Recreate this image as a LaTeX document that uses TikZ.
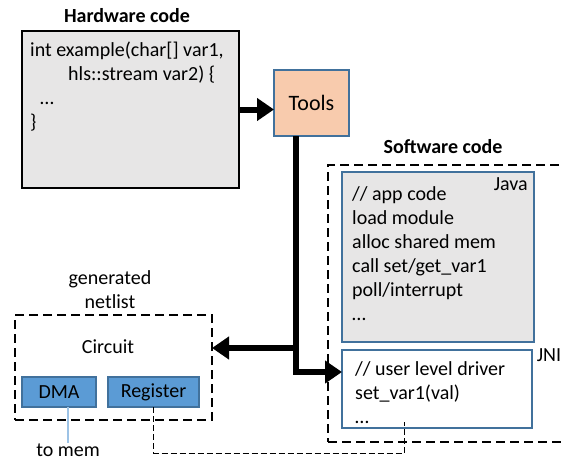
\documentclass[tikz,border=0pt]{standalone}
\usepackage{fontspec}
\setmainfont{Carlito}
\usetikzlibrary{arrows.meta}
\definecolor{codegray}{HTML}{E7E6E6}
\definecolor{peach}{HTML}{F8CBAD}
\definecolor{edgeblue}{HTML}{41719C}
\definecolor{boxblue}{HTML}{5B9BD5}
\definecolor{wireblue}{HTML}{9DC3E6}
\begin{document}
\begin{tikzpicture}[x=1pt,y=-1pt,
  font=\fontsize{20}{24}\selectfont,
  panel/.style={anchor=north west, inner sep=0, outer sep=0},
  codebox/.style={panel, draw=black, line width=1.6pt, fill=codegray},
  bluebox/.style={panel, draw=edgeblue, line width=1.5pt},
  groupbox/.style={panel, draw=black, line width=1.6pt, dash pattern=on 9pt off 5pt},
  hwblock/.style={panel, draw=edgeblue, line width=1.2pt, fill=boxblue},
  label/.style={inner sep=0},
  code/.style={anchor=north west, align=left, inner sep=0},
  bigarrow/.style={line width=6pt, -{Triangle[length=17pt,width=22pt]}},
]
\clip (0,0) rectangle (563,463);

% hardware source
\node[label, font=\fontsize{20}{24}\selectfont\bfseries] (hwtitle) at (127,16) {Hardware code};
\node[codebox, minimum width=217pt, minimum height=157pt] (hw) at (22,31) {};
\node[code] (hwtext) at (30,42) {int example(char[] var1,\\
  \hspace*{38pt}hls::stream var2) \{\\
  \hspace*{10pt}…\\
  \}};

% tool flow
\node[bluebox, fill=peach, minimum width=75pt, minimum height=66pt] (tools) at (274,70) {};
\node[label, font=\fontsize{22}{26}\selectfont] (toolstext) at (tools.center) {Tools};

% software side
\node[label, font=\fontsize{20}{24}\selectfont\bfseries] (swtitle) at (443,147) {Software code};
\node[groupbox, minimum width=250pt, minimum height=277pt] (sw) at (328,165) {};
\node[bluebox, fill=codegray, minimum width=192pt, minimum height=170pt] (java) at (342,172) {};
\node[label, anchor=north east] (javalabel) at (528,177) {Java};
\node[code] (javatext) at (352,186) {// app code\\
  load module\\
  alloc shared mem\\
  call set/get\_var1\\
  poll/interrupt\\
  …};
\node[bluebox, fill=white, minimum width=190pt, minimum height=78pt] (jni) at (342,350) {};
\node[label] (jnilabel) at (549,355) {JNI};
\node[code] (jnitext) at (355,361) {// user level driver\\
  set\_var1(val)\\
  …};

% generated hardware
\node[label, align=center] (netlist) at (110,290) {generated\\netlist};
\node[groupbox, minimum width=197pt, minimum height=105pt] (circuit) at (15,315) {};
\node[label] (circuittext) at (108,347) {Circuit};
\node[hwblock, minimum width=74pt, minimum height=30pt] (dma) at (22,377) {};
\node[label] (dmatext) at (dma.center) {DMA};
\node[hwblock, minimum width=91pt, minimum height=30pt] (reg) at (108,377) {};
\node[label] (regtext) at (reg.center) {Register};
\node[label, anchor=base] (tomem) at (68,456) {to mem};

% connections
\coordinate (split) at (296,348);
\coordinate (bend) at (296,372);
\coordinate (rb) at (404,453);
\coordinate (re) at (404,422);

\draw[bigarrow] (hw.east) -- (hw.east -| tools.west);
\draw[bigarrow] (tools.south -| bend) -- (bend) -- (bend -| jni.west);
\draw[bigarrow] (split) -- (split -| circuit.east);
\draw[line width=0.9pt, dash pattern=on 6pt off 3pt] (reg.south) |- (rb) -- (re);
\draw[wireblue, line width=1.2pt] (dma.south -| tomem) -- (tomem.north);
\end{tikzpicture}
\end{document}
